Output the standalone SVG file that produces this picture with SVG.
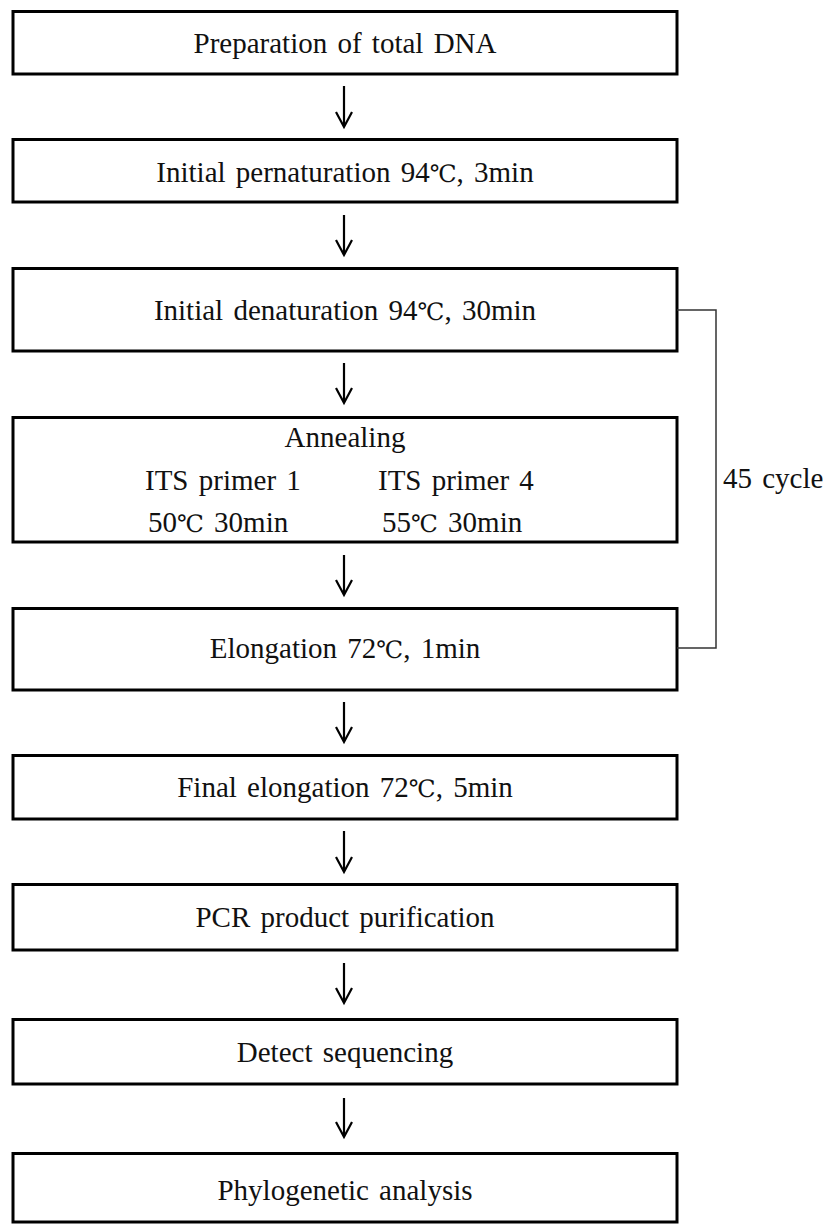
<svg xmlns="http://www.w3.org/2000/svg" width="831" height="1225" viewBox="0 0 831 1225">
  <style>
    .box { fill: #ffffff; stroke: #000000; stroke-width: 3; }
    .t { font-family: 'Liberation Serif', 'DejaVu Serif', serif; font-size: 29px; fill: #111111; word-spacing: 3px; }
    .c { text-anchor: middle; }
    .deg { font-family: 'DejaVu Serif', 'Noto Sans CJK KR', serif; font-size: 24px; }
    .arr { fill: none; stroke: #000000; stroke-width: 2.2; }
    .br { fill: none; stroke: #333333; stroke-width: 1.5; }
  </style>
  <rect width="831" height="1225" fill="#ffffff"/>

  <g id="n1">
    <rect class="box" x="13" y="11.5" width="664" height="62.5"/>
    <text class="t c" x="345" y="53">Preparation of total DNA</text>
  </g>
  <g id="n2">
    <rect class="box" x="13" y="139.5" width="664" height="62.5"/>
    <text class="t c" x="345" y="182">Initial pernaturation 94<tspan class="deg">℃</tspan>, 3min</text>
  </g>
  <g id="n3">
    <rect class="box" x="13" y="268.5" width="664" height="82.5"/>
    <text class="t c" x="345" y="320">Initial denaturation 94<tspan class="deg">℃</tspan>, 30min</text>
  </g>
  <g id="n4">
    <rect class="box" x="13" y="417.5" width="664" height="124.5"/>
    <text class="t c" x="345" y="447">Annealing</text>
    <text class="t" x="145" y="490">ITS primer 1</text>
    <text class="t" x="378" y="490">ITS primer 4</text>
    <text class="t" x="148" y="532">50<tspan class="deg">℃</tspan> 30min</text>
    <text class="t" x="382" y="532">55<tspan class="deg">℃</tspan> 30min</text>
  </g>
  <g id="n5">
    <rect class="box" x="13" y="608.5" width="664" height="81.5"/>
    <text class="t c" x="345" y="658">Elongation 72<tspan class="deg">℃</tspan>, 1min</text>
  </g>
  <g id="n6">
    <rect class="box" x="13" y="755.5" width="664" height="63.5"/>
    <text class="t c" x="345" y="797">Final elongation 72<tspan class="deg">℃</tspan>, 5min</text>
  </g>
  <g id="n7">
    <rect class="box" x="13" y="884.5" width="664" height="65.5"/>
    <text class="t c" x="345" y="927">PCR product purification</text>
  </g>
  <g id="n8">
    <rect class="box" x="13" y="1019.5" width="664" height="64.5"/>
    <text class="t c" x="345" y="1062">Detect sequencing</text>
  </g>
  <g id="n9">
    <rect class="box" x="13" y="1153.5" width="664" height="68.5"/>
    <text class="t c" x="345" y="1200">Phylogenetic analysis</text>
  </g>

  <g id="connectors">
    <path class="arr" d="M344,86 V127 M336,112 L344,127 L352,112"/>
    <path class="arr" d="M344,215 V255 M336,240 L344,255 L352,240"/>
    <path class="arr" d="M344,363 V403 M336,388 L344,403 L352,388"/>
    <path class="arr" d="M344,555 V595 M336,580 L344,595 L352,580"/>
    <path class="arr" d="M344,702 V742 M336,727 L344,742 L352,727"/>
    <path class="arr" d="M344,831 V872 M336,857 L344,872 L352,857"/>
    <path class="arr" d="M344,963 V1003 M336,988 L344,1003 L352,988"/>
    <path class="arr" d="M344,1098 V1137 M336,1122 L344,1137 L352,1122"/>
    <path class="br" d="M677,310 H716 V648 H677"/>
  </g>
  <g id="cycle-label">
    <text class="t" x="723" y="488">45 cycle</text>
  </g>
</svg>
